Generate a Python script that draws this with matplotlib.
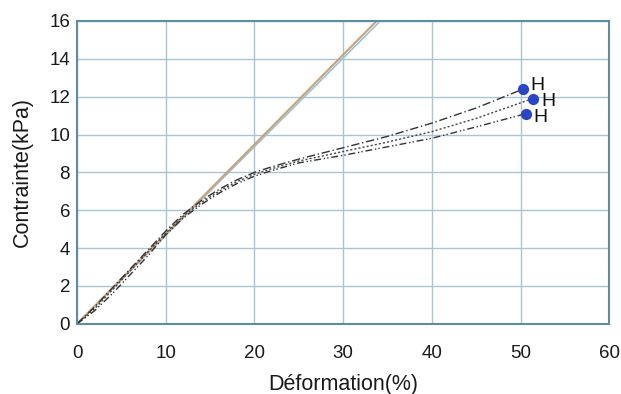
import numpy as np
import matplotlib.pyplot as plt

plt.rcParams['font.family'] = ['Liberation Sans', 'DejaVu Sans']

# linear (model) lines
lin_x = [0, 34]
lin_tan_y = [0, 16.1]
lin_blue_y = [0, 15.9]

# test curves (strain %, stress kPa)
c1_x = [0, 2, 4, 6, 8, 10, 12, 14, 16, 18, 20, 22, 25, 30, 35, 40, 45, 50.3]
c1_y = [0, 0.9, 1.9, 2.9, 3.9, 4.9, 5.8, 6.5, 7.1, 7.6, 8.0, 8.3, 8.7, 9.3, 9.9, 10.6, 11.4, 12.4]
c2_x = [0, 2, 4, 6, 8, 10, 12, 14, 16, 18, 20, 22, 25, 30, 35, 40, 45, 51.4]
c2_y = [0, 0.8, 1.8, 2.8, 3.8, 4.8, 5.7, 6.4, 7.0, 7.5, 7.9, 8.2, 8.6, 9.1, 9.6, 10.15, 10.85, 11.9]
c3_x = [0, 2, 4, 6, 8, 10, 12, 14, 16, 18, 20, 22, 25, 30, 35, 40, 45, 50.6]
c3_y = [0, 0.7, 1.6, 2.6, 3.6, 4.7, 5.6, 6.3, 6.9, 7.4, 7.8, 8.1, 8.5, 8.9, 9.35, 9.8, 10.4, 11.1]

# failure points
end_x = [50.3, 51.4, 50.6]
end_y = [12.4, 11.9, 11.1]
end_labels = ['H', 'H', 'H']

fig = plt.figure(figsize=(6.21, 3.94), dpi=100)
ax = fig.add_axes([0.124, 0.178, 0.857, 0.769])

frame = '#5f8da0'
ax.grid(True, color='#a9c4d2', linewidth=1.0)
ax.set_axisbelow(True)

ax.plot(lin_x, lin_blue_y, color='#9ec3d8', linewidth=1.2)
ax.plot(lin_x, lin_tan_y, color='#c9a27a', linewidth=1.5)

ax.plot(c1_x, c1_y, color='#333333', linewidth=1.0, linestyle=(0, (6, 2, 1, 2)))
ax.plot(c2_x, c2_y, color='#444444', linewidth=1.0, linestyle=(0, (1.5, 1.5)))
ax.plot(c3_x, c3_y, color='#333333', linewidth=1.0, linestyle=(0, (5, 2, 1, 1.5, 1, 2)))

ax.scatter(end_x, end_y, s=50, color='#2b46c4', zorder=5)
offsets = [(0.8, 0.2), (1.0, -0.15), (0.9, -0.2)]
for x, y, t, (dx, dy) in zip(end_x, end_y, end_labels, offsets):
    ax.text(x + dx, y + dy, t, fontsize=14, color='#111111', va='center', ha='left')

ax.set_xlim(0, 60)
ax.set_ylim(0, 16)
ax.set_xticks(range(0, 61, 10))
ax.set_yticks(range(0, 17, 2))
for s in ax.spines.values():
    s.set_color(frame)
    s.set_linewidth(1.5)
ax.tick_params(length=0, labelsize=13.5, colors='#1a1a1a')
ax.tick_params(axis='x', pad=15)
ax.tick_params(axis='y', pad=5)
ax.set_xlabel('Déformation(%)', fontsize=15.5, color='#1a1a1a', labelpad=9)
ax.set_ylabel('Contrainte(kPa)', fontsize=15.5, color='#1a1a1a', labelpad=12)

fig.savefig('out.png', dpi=100)
